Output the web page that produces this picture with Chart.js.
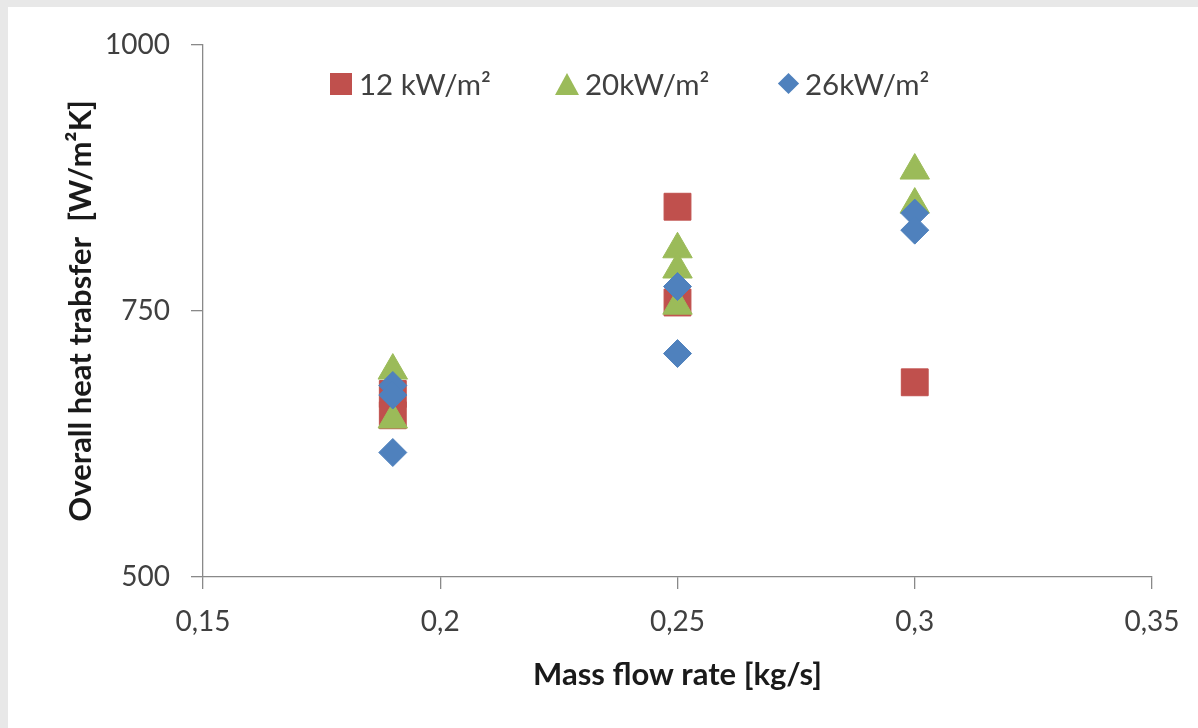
<!DOCTYPE html>
<html>
<head>
<meta charset="utf-8">
<script src="https://cdn.jsdelivr.net/npm/chart.js@4.4.0/dist/chart.umd.min.js"></script>
<style>
  body { margin: 0; background: #e8e8e8; font-family: Lato, "Open Sans", sans-serif; }
  #wrap { position: absolute; left: 8px; top: 7px; width: 1190px; height: 721px; background: #fff; }
  #legend { position: absolute; left: 0; top: 0; }
  .item { position: absolute; display: flex; align-items: center; font-size: 29.5px; color: #404040; white-space: nowrap; }
  .sq { width: 22px; height: 22px; background: #C0504D; margin-right: 7px; }
  .tri { width: 0; height: 0; border-left: 12px solid transparent; border-right: 12px solid transparent; border-bottom: 22px solid #9BBB59; margin-right: 6px; }
  .dia { width: 15px; height: 15px; background: #4F81BD; transform: rotate(45deg); margin: 0 9px 0 4px; }
</style>
</head>
<body>
<div id="wrap">
  <canvas id="chart"></canvas>
  <div id="legend">
    <div class="item" style="left:322px; top:59px;"><span class="sq"></span><span>12 kW/m²</span></div>
    <div class="item" style="left:547px; top:59px;"><span class="tri"></span><span>20kW/m²</span></div>
    <div class="item" style="left:769px; top:59px;"><span class="dia"></span><span>26kW/m²</span></div>
  </div>
</div>
<script>
// mass flow rate [kg/s] and overall heat transfer [W/m2K]
const xs12 = [0.19, 0.19, 0.25, 0.25, 0.30];
const ys12 = [672, 652, 848, 758, 683];

const xs20 = [0.19, 0.19, 0.25, 0.25, 0.25, 0.30, 0.30];
const ys20 = [694, 648, 808, 789, 755, 882, 850];

const xs26 = [0.19, 0.19, 0.19, 0.25, 0.25, 0.30, 0.30];
const ys26 = [680, 671, 617, 773, 710, 842, 826];

const xTicks = [0.15, 0.2, 0.25, 0.3, 0.35];
const yTicks = [500, 750, 1000];

const toPoints = (xs, ys) => xs.map((x, i) => ({ x: x, y: ys[i] }));

const axisColor = '#898989';
const tickFont = { family: 'Lato', size: 28 };
const titleFont = { family: 'Lato', size: 31, weight: 'bold' };

const ctx = document.getElementById('chart').getContext('2d');
new Chart(ctx, {
  type: 'scatter',
  data: {
    datasets: [
      {
        label: '12 kW/m²',
        data: toPoints(xs12, ys12),
        pointStyle: 'rect',
        pointRadius: 19,
        backgroundColor: '#C0504D',
        borderColor: '#C0504D',
        borderWidth: 1,
        order: 3
      },
      {
        label: '20kW/m²',
        data: toPoints(xs20, ys20),
        pointStyle: 'triangle',
        pointRadius: 17,
        backgroundColor: '#9BBB59',
        borderColor: '#9BBB59',
        borderWidth: 1,
        order: 2
      },
      {
        label: '26kW/m²',
        data: toPoints(xs26, ys26),
        pointStyle: 'rectRot',
        pointRadius: 14,
        backgroundColor: '#4F81BD',
        borderColor: '#4F81BD',
        borderWidth: 1,
        order: 1
      }
    ]
  },
  options: {
    responsive: true,
    maintainAspectRatio: false,
    animation: false,
    layout: { padding: { top: 38, right: 46, left: 0, bottom: 0 } },
    plugins: {
      legend: { display: false },
      tooltip: { enabled: false }
    },
    scales: {
      x: {
        type: 'linear',
        min: 0.15,
        max: 0.35,
        afterFit: (scale) => { scale.height = 151; },
        afterBuildTicks: (scale) => { scale.ticks = xTicks.map(v => ({ value: v })); },
        grid: { drawOnChartArea: false, drawTicks: true, tickLength: 12, color: axisColor, lineWidth: 1.3 },
        border: { color: axisColor, width: 1.3 },
        ticks: {
          color: '#404040',
          font: tickFont,
          padding: 16,
          maxRotation: 0,
          callback: (v) => String(Number(v.toFixed(2))).replace('.', ',')
        },
        title: {
          display: true,
          text: 'Mass flow rate [kg/s]',
          color: '#1a1a1a',
          font: titleFont,
          padding: { top: 0, bottom: 34 }
        }
      },
      y: {
        type: 'linear',
        min: 500,
        max: 1000,
        afterFit: (scale) => { scale.width = 195; },
        afterBuildTicks: (scale) => { scale.ticks = yTicks.map(v => ({ value: v })); },
        grid: { drawOnChartArea: false, drawTicks: true, tickLength: 12, color: axisColor, lineWidth: 1.3 },
        border: { color: axisColor, width: 1.3 },
        ticks: {
          color: '#404040',
          font: tickFont,
          padding: 21,
          callback: (v) => String(v)
        },
        title: {
          display: true,
          text: 'Overall heat trabsfer  [W/m²K]',
          color: '#1a1a1a',
          font: titleFont,
          padding: { top: 54, bottom: 0 }
        }
      }
    }
  }
});
</script>
</body>
</html>
